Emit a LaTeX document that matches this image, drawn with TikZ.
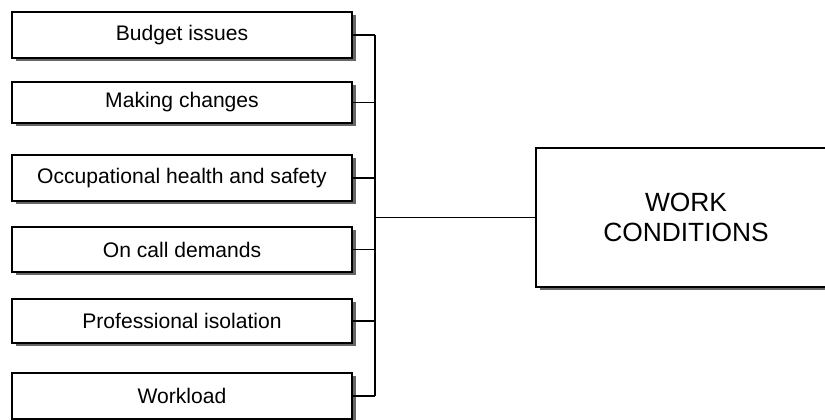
\documentclass[tikz,border=0pt]{standalone}
\usepackage{fontspec}
\setmainfont{Liberation Sans}
\usetikzlibrary{shadows}
\begin{document}
\begin{tikzpicture}[x=0.03cm, y=-0.03cm,
  factor/.style={draw=black, line width=1.7pt, fill=white,
    drop shadow={shadow xshift=3.2pt, shadow yshift=-2.8pt, fill=black!60, opacity=1},
    minimum width=340*0.03cm, inner sep=0pt, font=\fontsize{18}{21}\selectfont},
  mainbox/.style={draw=black, line width=1.7pt, fill=white,
    drop shadow={shadow xshift=3.2pt, shadow yshift=-2.8pt, fill=black!60, opacity=1},
    minimum width=300*0.03cm, minimum height=139*0.03cm, inner sep=0pt,
    align=center, font=\fontsize{22.5}{25}\selectfont},
  link/.style={draw=black, line width=1.3pt}]
\useasboundingbox (0,0) rectangle (825,419);

% contributing factors
\node[factor, minimum height=46*0.03cm] (b1) at (182,35) {Budget issues};
\node[factor, minimum height=41*0.03cm] (b2) at (182,102.5) {Making changes};
\node[factor, minimum height=46*0.03cm] (b3) at (182,178) {Occupational health and safety};
\node[factor, minimum height=45*0.03cm] (b4) at (182,249.5) {On call demands};
\node[factor, minimum height=44*0.03cm] (b5) at (182,321) {Professional isolation};
\node[factor, minimum height=46*0.03cm] (b6) at (182,396) {Workload};

% main category
\node[mainbox, anchor=west] (work) at (535,217.5) {WORK\\CONDITIONS};

% bus connecting the factors to the main box
\coordinate (bus) at (375,0);
\foreach \b in {b1,b2,b3,b4,b5,b6}
  \draw[link] (\b.east) -- (\b.east -| bus);
\draw[link] (b1.east -| bus) -- (b6.east -| bus);
\draw[link] (work.west -| bus) -- (work.west);
\end{tikzpicture}
\end{document}
